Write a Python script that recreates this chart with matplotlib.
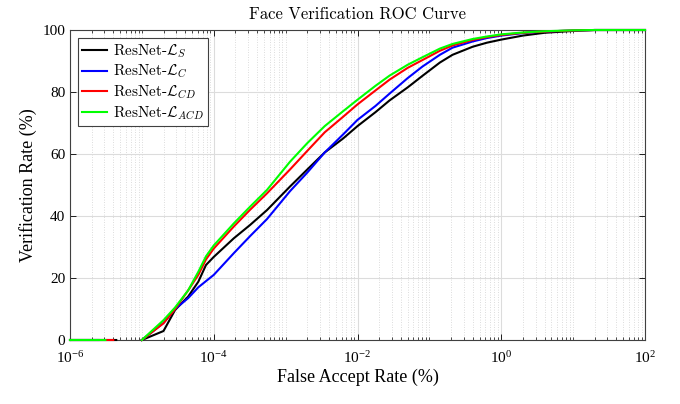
import numpy as np
import matplotlib
matplotlib.use("Agg")
import matplotlib.pyplot as plt
from matplotlib.ticker import LogLocator, NullFormatter

plt.rcParams["font.family"] = ["Liberation Serif", "DejaVu Serif"]
plt.rcParams["mathtext.fontset"] = "cm"

# false accept rate (%) where the curves were read
far = [1e-5, 2e-5, 2.9e-5, 4.4e-5, 6.1e-5, 7.8e-5, 1e-4, 1.9e-4, 3.2e-4, 5.5e-4,
       1.15e-3, 2e-3, 3.5e-3, 6.3e-3, 1e-2, 1.78e-2, 2.8e-2, 5e-2, 8e-2, 0.14,
       0.21, 0.4, 0.63, 1, 2, 4, 10, 20, 100]

vr_s = [0, 2.9, 9.7, 14, 18.8, 24.2, 26.8, 32.8, 37.1, 41.9,
        49.5, 55, 60.5, 65, 69, 73.5, 77.3, 81.5, 85.2, 89.5,
        92, 94.6, 95.9, 96.9, 98.2, 99.1, 99.7, 100, 100]
vr_c = [0, 5.5, 10, 13.5, 17, 19, 21, 28, 33.5, 39,
        48, 54, 60.5, 66.3, 71, 75.5, 79.5, 84.5, 88.2, 92,
        94.3, 96.3, 97.4, 98.2, 99, 99.5, 99.85, 100, 100]
vr_cd = [0, 5.4, 10, 16, 21, 26, 29.5, 36.6, 42, 47.3,
         55, 61, 67, 72, 76, 80.5, 84, 87.8, 90.3, 93.3,
         95, 96.8, 97.7, 98.4, 99.1, 99.5, 99.85, 100, 100]
vr_acd = [0, 6.4, 10.5, 16, 22, 27, 30.5, 37.6, 43, 48.4,
          57.5, 63.5, 69, 73.8, 77.5, 82, 85.3, 88.8, 91.2, 94,
          95.5, 97.1, 97.9, 98.6, 99.2, 99.6, 99.9, 100, 100]

# short flat part at the very low end, before the gap
zero_end = {"S": 4.4e-6, "C": 2.5e-6, "CD": 4.0e-6, "ACD": 3.1e-6}

labels = [r"ResNet-$\mathcal{L}_{S}$", r"ResNet-$\mathcal{L}_{C}$",
          r"ResNet-$\mathcal{L}_{CD}$", r"ResNet-$\mathcal{L}_{ACD}$"]
keys = ["S", "C", "CD", "ACD"]
colors = ["black", "#0000ff", "#ff0000", "#00ff00"]
series = [vr_s, vr_c, vr_cd, vr_acd]

xtick_vals = [1e-6, 1e-4, 1e-2, 1e0, 1e2]
xtick_labels = [r"$\mathregular{10^{-6}}$", r"$\mathregular{10^{-4}}$",
                r"$\mathregular{10^{-2}}$", r"$\mathregular{10^{0}}$",
                r"$\mathregular{10^{2}}$"]
ytick_vals = [0, 20, 40, 60, 80, 100]

fig = plt.figure(figsize=(6.8, 4.04), dpi=100)
ax = fig.add_axes([70 / 680, 64 / 404, 575 / 680, 310 / 404])

for key, vals, col, lab in zip(keys, series, colors, labels):
    x = [1e-6, zero_end[key], np.nan] + far
    y = [0, 0, np.nan] + vals
    ax.plot(x, y, color=col, lw=1.5, label=lab, zorder=3, clip_on=False)

ax.set_xscale("log")
ax.set_xlim(1e-6, 1e2)
ax.set_ylim(0, 100)
ax.set_xticks(xtick_vals)
ax.set_xticklabels(xtick_labels)
ax.xaxis.set_minor_locator(LogLocator(base=10, subs=np.arange(1, 10), numticks=100))
ax.xaxis.set_minor_formatter(NullFormatter())
ax.set_yticks(ytick_vals)

ax.grid(True, which="major", color="#dcdcdc", lw=0.8, ls="-")
ax.grid(True, which="minor", axis="x", color="#d0d0d0", lw=0.6, ls=(0, (1, 2)))
ax.set_axisbelow(True)

ax.tick_params(which="both", direction="in", top=True, right=True, labelsize=11)
ax.tick_params(which="major", length=4, width=0.6)
ax.tick_params(which="minor", length=2, width=0.5)
ax.tick_params(axis="x", which="major", pad=7)
for sp in ax.spines.values():
    sp.set_color("#404040")
    sp.set_linewidth(0.8)

ax.set_xlabel("False Accept Rate (%)", fontsize=13, labelpad=2)
ax.set_ylabel("Verification Rate (%)", fontsize=13, labelpad=4)
ax.set_title("Face Verification ROC Curve", fontsize=12, family="cmr10", pad=8)

leg = ax.legend(loc="upper left", prop={"family": "cmr10", "size": 11},
                fancybox=False, framealpha=1, edgecolor="#404040",
                handlelength=1.6, handletextpad=0.4, borderpad=0.3,
                labelspacing=0.2, borderaxespad=0.5)
leg.get_frame().set_linewidth(0.8)
leg.set_zorder(5)

fig.savefig("out.png", dpi=100)
